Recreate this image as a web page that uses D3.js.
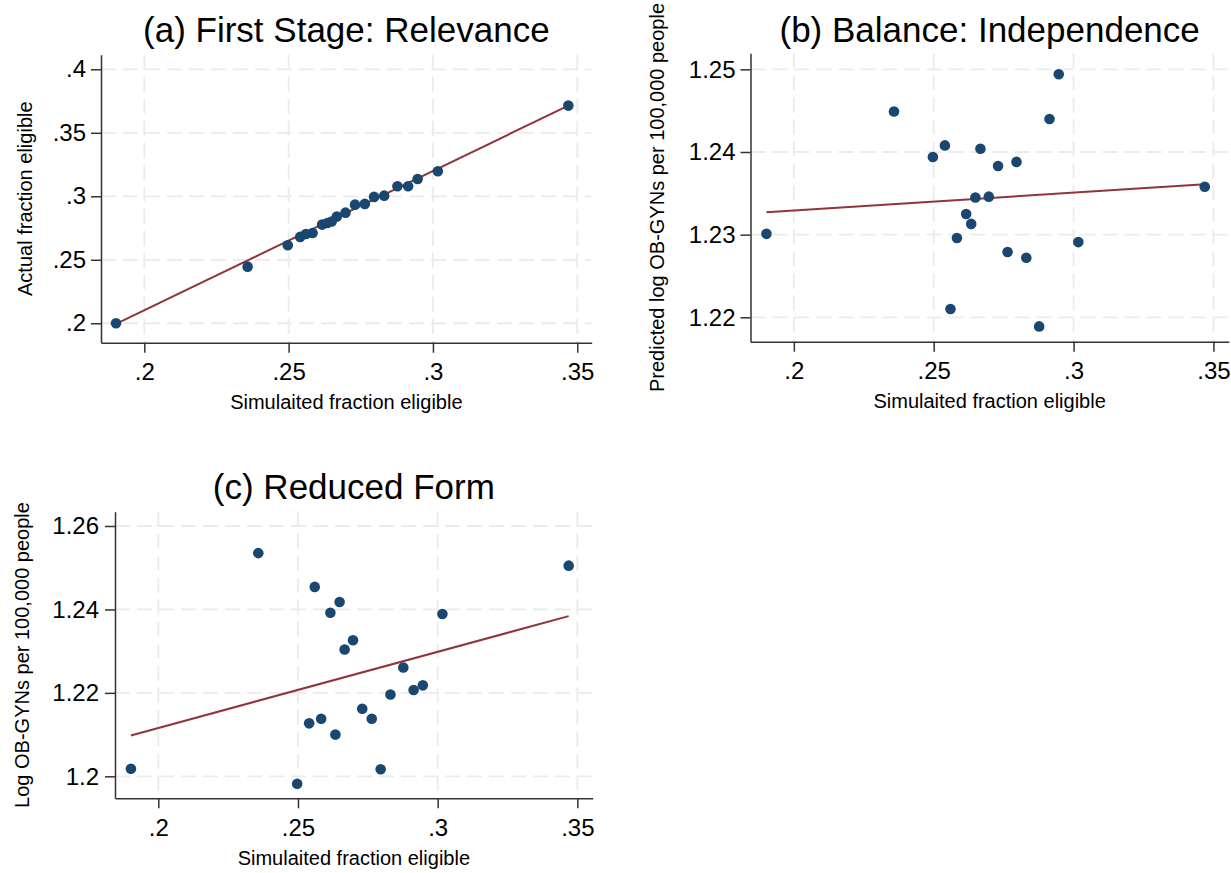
<!DOCTYPE html>
<html>
<head>
<meta charset="utf-8">
<script src="https://cdn.jsdelivr.net/npm/d3@7"></script>
<style>
  body { margin: 0; background: #fff; }
  svg { display: block; font-family: "Liberation Sans", Arial, sans-serif; }
</style>
</head>
<body>
<svg width="1231" height="873"></svg>
<script>
// simulated fraction eligible, shared by all three panels
const simulated = [0.1902, 0.2358, 0.2497, 0.2540, 0.2560, 0.2583, 0.2616, 0.2634, 0.2649, 0.2667,
                   0.2697, 0.2730, 0.2764, 0.2796, 0.2831, 0.2877, 0.2914, 0.2947, 0.3017, 0.3469];
const actualFraction = [0.2000, 0.2446, 0.2614, 0.2680, 0.2703, 0.2711, 0.2777, 0.2790, 0.2801, 0.2840,
                        0.2871, 0.2934, 0.2940, 0.2995, 0.3005, 0.3079, 0.3079, 0.3136, 0.3197, 0.3714];
const predictedLog = [1.2301, 1.2449, 1.2394, 1.2408, 1.2210, 1.2296, 1.2325, 1.2313, 1.2345, 1.2404,
                      1.2346, 1.2383, 1.2279, 1.2388, 1.2272, 1.2189, 1.2440, 1.2494, 1.2291, 1.2358];
const logObgyn = [1.2018, 1.2535, 1.1982, 1.2127, 1.2454, 1.2138, 1.2392, 1.2100, 1.2418, 1.2304,
                  1.2326, 1.2162, 1.2138, 1.2017, 1.2196, 1.2261, 1.2207, 1.2218, 1.2389, 1.2505];

// fitted-line values at min and max simulated fraction
const fitA = [0.1995, 0.3714];
const fitB = [1.2327, 1.2361];
const fitC = [1.2098, 1.2384];

const xTicks = [0.2, 0.25, 0.3, 0.35];
const xTickLabels = [".2", ".25", ".3", ".35"];
const yTicksA = [0.2, 0.25, 0.3, 0.35, 0.4];
const yTickLabelsA = [".2", ".25", ".3", ".35", ".4"];
const yTicksB = [1.22, 1.23, 1.24, 1.25];
const yTickLabelsB = ["1.22", "1.23", "1.24", "1.25"];
const yTicksC = [1.2, 1.22, 1.24, 1.26];
const yTickLabelsC = ["1.2", "1.22", "1.24", "1.26"];

const titles = ["(a) First Stage: Relevance", "(b) Balance: Independence", "(c) Reduced Form"];
const yTitles = ["Actual fraction eligible", "Predicted log OB-GYNs per 100,000 people",
                 "Log OB-GYNs per 100,000 people"];
const xTitle = "Simulaited fraction eligible";

const markerColor = "#1a476f";
const fitColor = "#90353b";
const gridColor = "#ebebeb";
const axisColor = "#333";

const panels = [
  { title: titles[0], yTitle: yTitles[0], ys: actualFraction, fit: fitA, yTicks: yTicksA, yLabels: yTickLabelsA,
    left: 101, right: 591.7, top: 54.7, bottom: 342.7,
    xDomain: [0.185, 0.355], yDomain: [0.1847, 0.4115],
    titleY: 42, yTitleX: 32, yPad: 5 },
  { title: titles[1], yTitle: yTitles[1], ys: predictedLog, fit: fitB, yTicks: yTicksB, yLabels: yTickLabelsB,
    left: 750.5, right: 1228.8, top: 53.3, bottom: 341.7,
    xDomain: [0.1845, 0.3555], yDomain: [1.21705, 1.25194],
    titleY: 42, yTitleX: 664, yPad: 5 },
  { title: titles[2], yTitle: yTitles[2], ys: logObgyn, fit: fitC, yTicks: yTicksC, yLabels: yTickLabelsC,
    left: 115, right: 592.7, top: 511.7, bottom: 798.3,
    xDomain: [0.1845, 0.3555], yDomain: [1.19473, 1.26343],
    titleY: 499, yTitleX: 29, yPad: 6 }
];

const svg = d3.select("svg");

panels.forEach(p => {
  const g = svg.append("g");
  const x = d3.scaleLinear().domain(p.xDomain).range([p.left, p.right]);
  const y = d3.scaleLinear().domain(p.yDomain).range([p.bottom, p.top]);

  // dashed grid
  g.selectAll(".hgrid").data(p.yTicks).join("line")
    .attr("x1", p.left).attr("x2", p.right)
    .attr("y1", d => y(d)).attr("y2", d => y(d))
    .attr("stroke", gridColor).attr("stroke-width", 1.8)
    .attr("stroke-dasharray", "15,7");
  g.selectAll(".vgrid").data(xTicks).join("line")
    .attr("x1", d => x(d)).attr("x2", d => x(d))
    .attr("y1", p.top).attr("y2", p.bottom)
    .attr("stroke", gridColor).attr("stroke-width", 1.8)
    .attr("stroke-dasharray", "15,7");

  // axes
  const xAxis = d3.axisBottom(x).tickValues(xTicks)
    .tickFormat((d, i) => xTickLabels[i]).tickSize(10).tickSizeOuter(0).tickPadding(10.5);
  const yAxis = d3.axisLeft(y).tickValues(p.yTicks)
    .tickFormat((d, i) => p.yLabels[i]).tickSize(10).tickSizeOuter(0).tickPadding(p.yPad);

  const gx = g.append("g").attr("transform", `translate(0,${p.bottom})`).call(xAxis);
  const gy = g.append("g").attr("transform", `translate(${p.left},0)`).call(yAxis);
  [gx, gy].forEach(a => {
    a.select(".domain").attr("stroke", axisColor).attr("stroke-width", 1.5);
    a.selectAll(".tick line").attr("stroke", axisColor).attr("stroke-width", 1.5);
    a.selectAll(".tick text").attr("fill", "#000").style("font-size", "24px")
      .style("font-family", "'Liberation Sans', Arial, sans-serif");
  });

  // fit line
  const xr = d3.extent(simulated);
  g.append("path")
    .attr("d", d3.line().x(d => x(d[0])).y(d => y(d[1]))(xr.map((v, i) => [v, p.fit[i]])))
    .attr("fill", "none").attr("stroke", fitColor).attr("stroke-width", 2);

  // points
  g.selectAll(".pt").data(simulated).join("circle")
    .attr("cx", d => x(d)).attr("cy", (d, i) => y(p.ys[i]))
    .attr("r", 5.3).attr("fill", markerColor);

  // titles
  const cx = (p.left + p.right) / 2;
  g.append("text").attr("x", cx).attr("y", p.titleY)
    .attr("text-anchor", "middle").style("font-size", "35px").text(p.title);
  g.append("text").attr("x", cx).attr("y", p.bottom + 66.5)
    .attr("text-anchor", "middle").style("font-size", "20px").text(xTitle);
  g.append("text")
    .attr("transform", `translate(${p.yTitleX},${(p.top + p.bottom) / 2}) rotate(-90)`)
    .attr("text-anchor", "middle").style("font-size", "20px").text(p.yTitle);
});
</script>
</body>
</html>
